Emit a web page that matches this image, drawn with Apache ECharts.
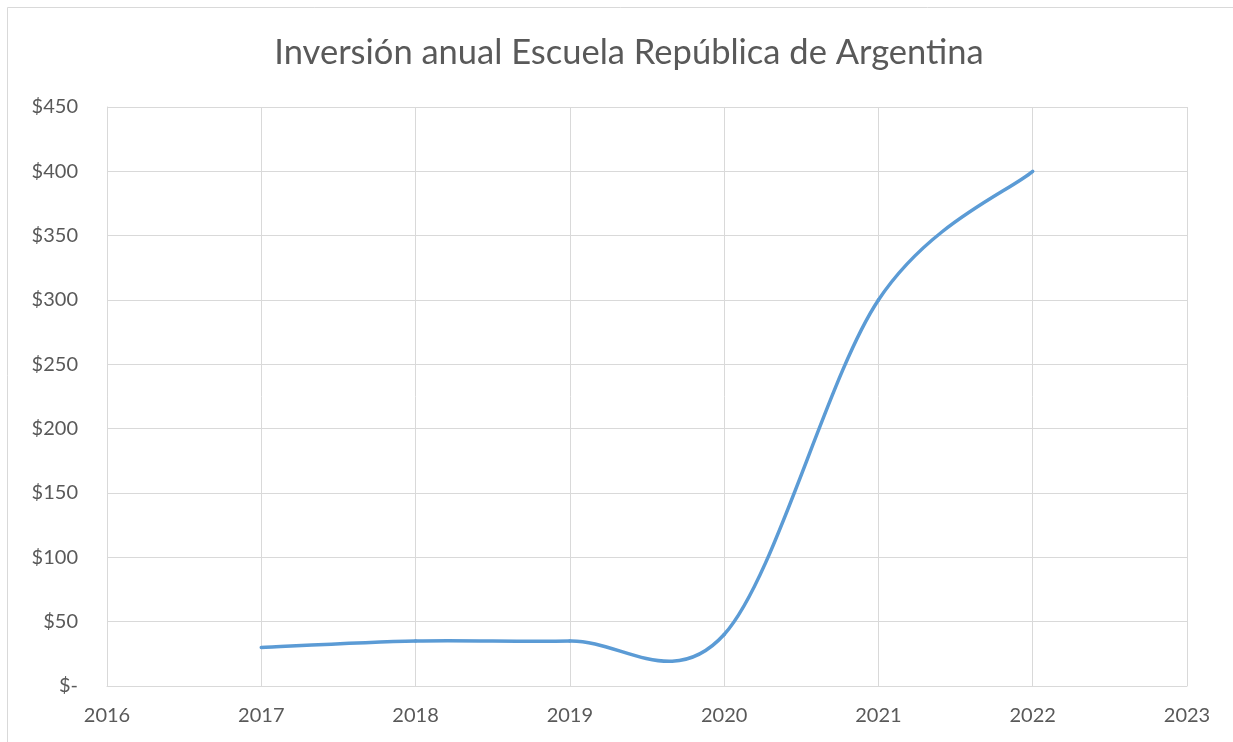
<!DOCTYPE html>
<html>
<head>
<meta charset="utf-8">
<script src="https://cdn.jsdelivr.net/npm/echarts@6/dist/echarts.min.js"></script>
<style>
html,body{margin:0;padding:0;background:#fff;}
#chart{width:1233px;height:742px;}
</style>
</head>
<body>
<div id="chart"></div>
<script>
const titleText = 'Inversión anual Escuela República de Argentina';
const years = [2017, 2018, 2019, 2020, 2021, 2022];
const investment = [30, 35, 35, 40, 300, 400];
const xTicks = { min: 2016, max: 2023, interval: 1 };
const yTicks = { min: 0, max: 450, interval: 50 };

const FONT = 'Lato';
const GRAY = '#595959';
const GRID = '#D9D9D9';
const LINE = '#5B9BD5';

const chart = echarts.init(document.getElementById('chart'), null, { renderer: 'canvas' });

const seriesData = years.map((y, i) => [y, investment[i]]);

// Excel-style smoothed line: cubic Bezier segments with Catmull-Rom tangents (1/6)
function renderSegment(params, api) {
  const i = params.dataIndex;
  if (i === 0) return null;
  const n = seriesData.length;
  const P = k => api.coord(seriesData[Math.max(0, Math.min(n - 1, k))]);
  const p0 = P(i - 2), p1 = P(i - 1), p2 = P(i), p3 = P(i + 1);
  const cp1x = p1[0] + (p2[0] - p0[0]) / 6;
  const cp1y = p1[1] + (p2[1] - p0[1]) / 6;
  const cp2x = p2[0] - (p3[0] - p1[0]) / 6;
  const cp2y = p2[1] - (p3[1] - p1[1]) / 6;
  return {
    type: 'bezierCurve',
    shape: { x1: p1[0], y1: p1[1], cpx1: cp1x, cpy1: cp1y, cpx2: cp2x, cpy2: cp2y, x2: p2[0], y2: p2[1] },
    style: { stroke: LINE, lineWidth: 3.5, fill: null, lineCap: 'round' }
  };
}

chart.setOption({
  animation: false,
  backgroundColor: '#ffffff',
  title: {
    text: titleText,
    left: 624,
    textAlign: 'center',
    top: 30,
    textStyle: { fontFamily: FONT, fontSize: 34.5, fontWeight: 'normal', color: GRAY }
  },
  graphic: [{
    type: 'rect',
    shape: { x: 7.5, y: 7.5, width: 1240, height: 760 },
    style: { fill: null, stroke: GRID, lineWidth: 1 },
    silent: true
  }],
  grid: { left: 107, right: 46, top: 107, bottom: 56 },
  xAxis: {
    type: 'value',
    min: xTicks.min, max: xTicks.max, interval: xTicks.interval,
    axisLine: { show: true, lineStyle: { color: GRID, width: 1 } },
    axisTick: { show: false },
    splitLine: { show: true, lineStyle: { color: GRID, width: 1 } },
    axisLabel: { color: GRAY, fontFamily: FONT, fontSize: 20, margin: 20, formatter: v => String(v) }
  },
  yAxis: {
    type: 'value',
    min: yTicks.min, max: yTicks.max, interval: yTicks.interval,
    axisLine: { show: true, lineStyle: { color: GRID, width: 1 } },
    axisTick: { show: false },
    splitLine: { show: true, lineStyle: { color: GRID, width: 1 } },
    axisLabel: { color: GRAY, fontFamily: FONT, fontSize: 20, margin: 29, formatter: v => v === 0 ? '$-' : '$' + v }
  },
  series: [{
    type: 'custom',
    name: 'Inversión',
    data: seriesData,
    renderItem: renderSegment,
    clip: false
  }]
});
</script>
</body>
</html>
